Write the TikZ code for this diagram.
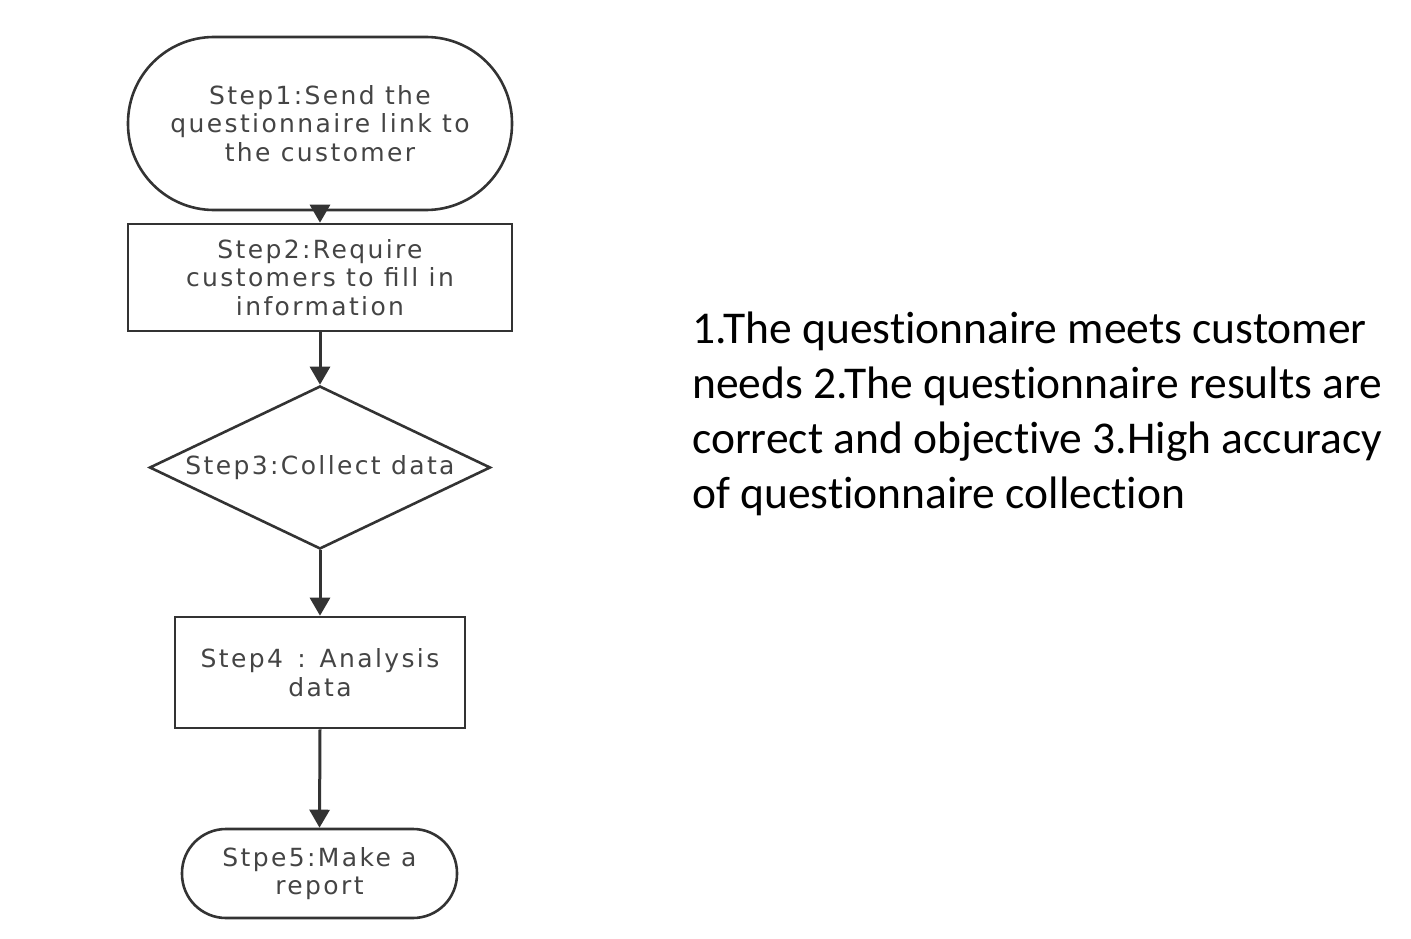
\documentclass[tikz,border=0pt]{standalone}
\usepackage{fontspec}
\setmainfont[Ligatures=NoCommon]{Carlito}
\newfontfamily\flowfont[LetterSpace=9.5]{DejaVu Sans}
\usetikzlibrary{shapes.geometric,arrows.meta}
\definecolor{ink}{HTML}{333333}
\definecolor{txtgrey}{HTML}{444444}
\begin{document}
\begin{tikzpicture}[x=1pt,y=-1pt,
  box/.style={draw=ink,line width=2.6pt,text=txtgrey,align=center,inner sep=0pt,
    font=\flowfont\fontsize{25}{28.5}\selectfont},
  flowarrow/.style={draw=ink,line width=3pt,-{Triangle[length=18pt,width=20pt]}}]
\useasboundingbox (0,0) rectangle (1411,939);
\node[box,minimum width=384pt,minimum height=173pt,rounded corners=86pt] (s1) at (320,123.5)
  {Step1:Send the\\questionnaire link to\\the customer};
\node[box,minimum width=384pt,minimum height=107pt] (s2) at (320,277.5)
  {Step2:Require\\customers to fill in\\information};
\node[box,diamond,aspect=2.09,minimum width=341pt,minimum height=163pt] (s3) at (320,467.5)
  {Step3:Collect data};
\node[box,minimum width=290pt,minimum height=111pt] (s4) at (320,672.5)
  {Step4 \,: Analysis\\data};
\node[box,minimum width=275pt,minimum height=89pt,rounded corners=44pt] (s5) at (319.5,873.5)
  {Stpe5:Make a\\report};
\draw[flowarrow] (s1.south) -- (s2.north);
\draw[flowarrow] (s2.south) -- (s3.north);
\draw[flowarrow] (s3.south) -- (s4.north);
\draw[flowarrow] (s4.south) -- (s5.north);
\node[anchor=north west,align=left,inner sep=0pt,font=\fontsize{45.5}{55}\selectfont] (txt) at (692,312)
  {1.The questionnaire meets customer\\needs 2.The questionnaire results are\\correct and objective 3.High accuracy\\of questionnaire collection};
\end{tikzpicture}
\end{document}
